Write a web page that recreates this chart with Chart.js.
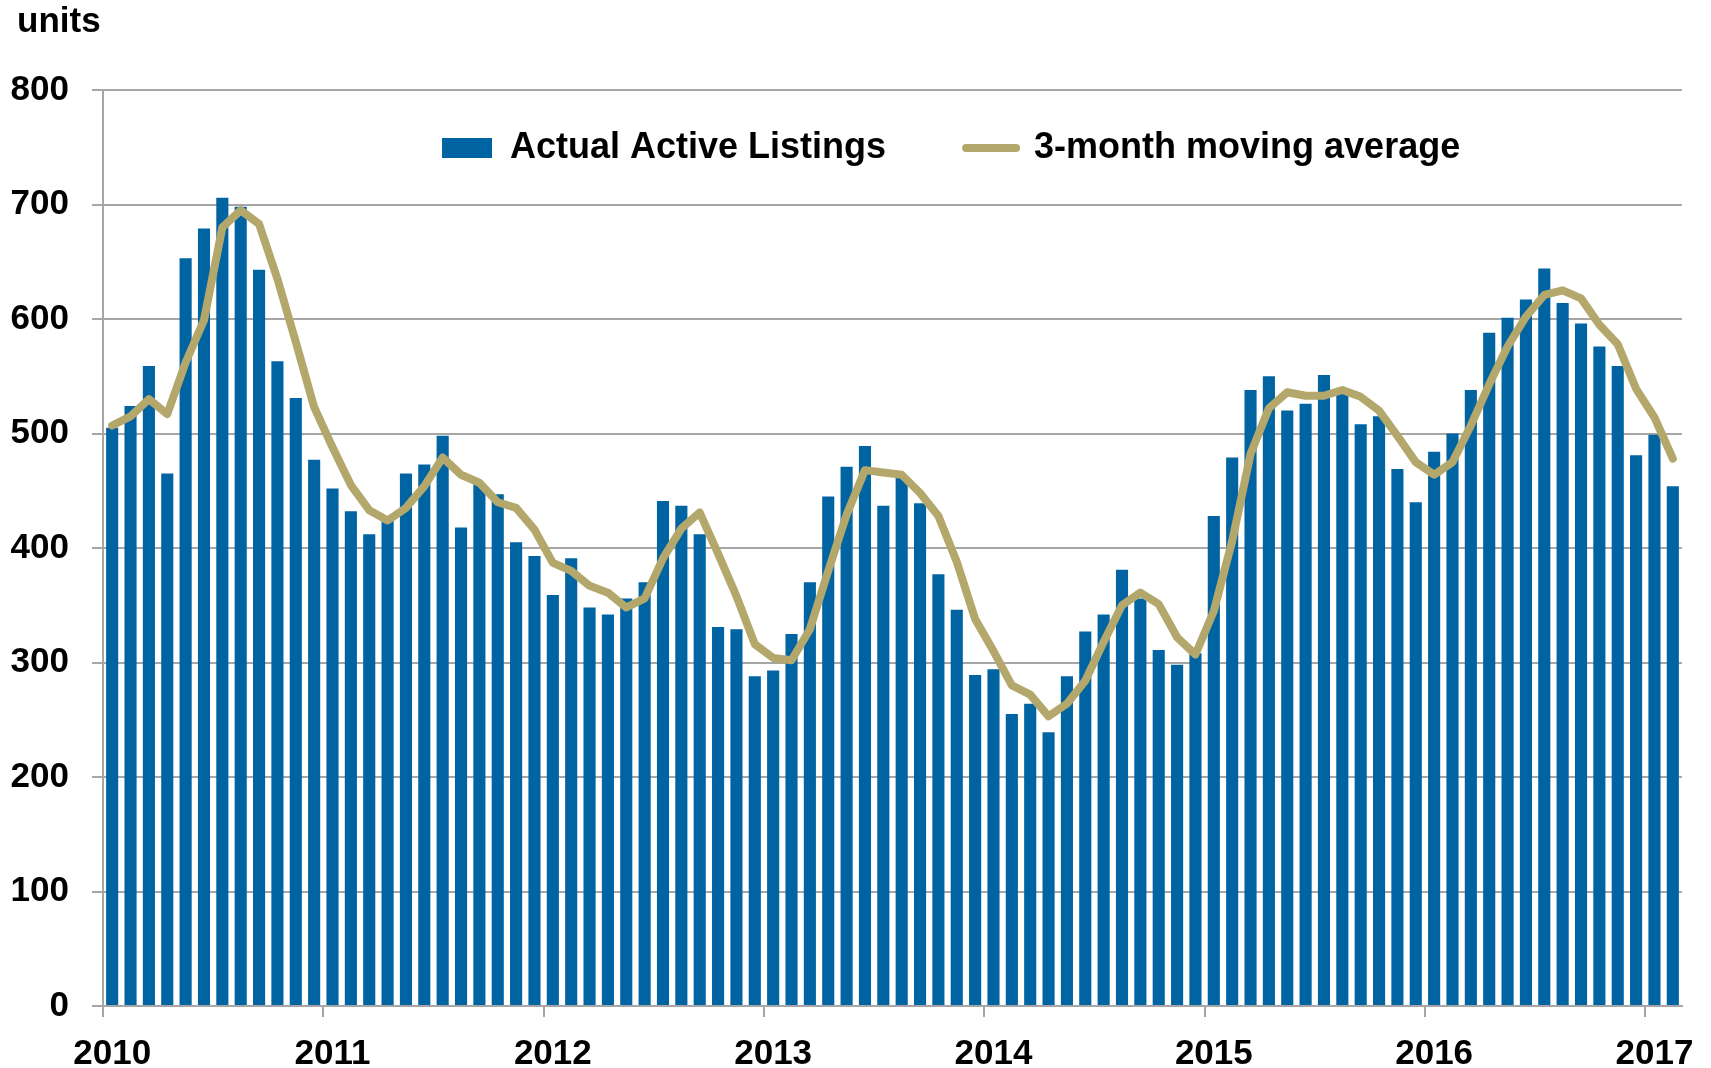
<!DOCTYPE html>
<html>
<head>
<meta charset="utf-8">
<script src="https://cdn.jsdelivr.net/npm/chart.js@4.4.1/dist/chart.umd.min.js"></script>
<style>
  html, body { margin: 0; padding: 0; background: #ffffff; }
  #wrap { width: 1711px; height: 1068px; position: relative; }
</style>
</head>
<body>
<div id="wrap"><canvas id="myChart"></canvas></div>
<script>
// months per year in the series (Jan 2010 - Feb 2017)
const years = ['2010', '2011', '2012', '2013', '2014', '2015', '2016', '2017'];
const monthsPerYear = [12, 12, 12, 12, 12, 12, 12, 2];

// actual active listings, monthly
const listings = [
  505, 524, 559, 465, 653, 679, 706, 698, 643, 563, 531, 477,
  452, 432, 412, 425, 465, 473, 498, 418, 456, 447, 405, 393,
  359, 391, 348, 342, 356, 370, 441, 437, 412, 331, 329, 288,
  293, 325, 370, 445, 471, 489, 437, 462, 439, 377, 346, 289,
  294, 255, 264, 239, 288, 327, 342, 381, 356, 311, 298, 308,
  428, 479, 538, 550, 520, 526, 551, 535, 508, 515, 469, 440,
  484, 500, 538, 588, 601, 617, 644, 614, 596, 576, 559, 481,
  499, 454
];

// 3-month moving average
const movingAvg = [
  507, 515, 530, 517, 562, 599, 680, 695, 683, 635, 580, 523,
  488, 455, 433, 424, 435, 454, 479, 464, 457, 440, 435, 416,
  387, 380, 367, 361, 348, 356, 391, 417, 431, 395, 358, 316,
  304, 302, 329, 380, 429, 468, 466, 464, 448, 428, 388, 338,
  310, 280, 272, 253, 264, 284, 318, 350, 361, 351, 322, 307,
  345, 406, 482, 522, 536, 533, 533, 538, 532, 520, 498, 475,
  464, 475, 507, 543, 576, 602, 621, 625, 618, 595, 578, 539,
  514, 478
];

const yTicks = [0, 100, 200, 300, 400, 500, 600, 700, 800];

const categories = [];
years.forEach((y, i) => {
  for (let m = 1; m <= monthsPerYear[i]; m++) {
    categories.push(y + '-' + String(m).padStart(2, '0'));
  }
});

const barBlue = '#0064a2';
const gold = '#b4a76c';
const gridGrey = '#a6a6a6';
const fontFamily = '"Liberation Sans", Arial, sans-serif';

Chart.defaults.font.family = fontFamily;
Chart.defaults.font.size = 35;
Chart.defaults.font.weight = 'bold';
Chart.defaults.color = '#000000';

// "units" caption over the y axis
const unitsLabel = {
  id: 'unitsLabel',
  afterDraw(chart) {
    const ctx = chart.ctx;
    ctx.save();
    ctx.font = 'bold 35px ' + fontFamily;
    ctx.fillStyle = '#000000';
    ctx.textAlign = 'left';
    ctx.textBaseline = 'alphabetic';
    ctx.fillText('units', chart.chartArea.left - 86, 32);
    ctx.restore();
  }
};

// move the legend inside the plot, where the original has it
// (the legend clips to its own box, so give it room)
const legendPlace = {
  id: 'legendPlace',
  afterLayout(chart) {
    const lg = chart.legend;
    const pad = chart.options.plugins.legend.labels.padding;
    lg.left = chart.chartArea.left + 339 - pad;
    lg.right = chart.chartArea.right;
    lg.top = chart.chartArea.top + 40 - pad;
    lg.bottom = lg.top + 250;
    lg.width = lg.right - lg.left;
    lg.height = lg.bottom - lg.top;
  }
};

const data = {
  labels: categories,
  datasets: [{
    type: 'bar',
    label: 'Actual Active Listings',
    data: listings,
    backgroundColor: barBlue,
    borderWidth: 0,
    barPercentage: 0.66,
    categoryPercentage: 1.0,
    pointStyle: 'rect',
    order: 1
  }, {
    type: 'line',
    label: '3-month moving average',
    data: movingAvg,
    borderColor: gold,
    backgroundColor: gold,
    borderWidth: 8,
    tension: 0,
    borderJoinStyle: 'round',
    borderCapStyle: 'round',
    pointRadius: 0,
    pointHoverRadius: 0,
    pointStyle: 'line',
    pointBorderColor: gold,
    pointBorderWidth: 8,
    order: 0
  }]
};

const config = {
  type: 'bar',
  data: data,
  plugins: [unitsLabel, legendPlace],
  options: {
    responsive: true,
    maintainAspectRatio: false,
    animation: false,
    events: [],
    layout: { padding: { top: 89, right: 29, bottom: 0, left: 0 } },
    plugins: {
      tooltip: { enabled: false },
      title: { display: false },
      legend: {
        position: 'top',
        align: 'start',
        maxHeight: 1,
        labels: {
          usePointStyle: true,
          pointStyleWidth: 50,
          boxHeight: 20,
          padding: 80,
          color: '#000000',
          font: { size: 36, weight: 'bold', family: fontFamily },
          sort: (a, b) => a.datasetIndex - b.datasetIndex,
          generateLabels: (chart) => {
            const items = Chart.defaults.plugins.legend.labels.generateLabels(chart);
            items.forEach(it => { if (it.pointStyle === 'line') it.lineCap = 'round'; });
            return items;
          }
        }
      }
    },
    scales: {
      x: {
        type: 'category',
        offset: true,
        afterFit: (s) => { s.height = 62; },
        grid: {
          offset: true,
          drawOnChartArea: false,
          drawTicks: true,
          tickLength: 11,
          lineWidth: 2,
          tickColor: (ctx) => (ctx.index !== undefined && ctx.index % 12 === 0) ? gridGrey : 'rgba(0,0,0,0)'
        },
        border: { display: true, color: gridGrey, width: 2 },
        ticks: {
          autoSkip: false,
          maxRotation: 0,
          minRotation: 0,
          padding: 16,
          callback: function (value, index) {
            const lab = this.getLabelForValue(value);
            return lab.endsWith('-01') ? lab.slice(0, 4) : '';
          }
        }
      },
      y: {
        min: 0,
        max: 800,
        afterFit: (s) => { s.width = 103; },
        afterBuildTicks: (s) => { s.ticks = yTicks.map(v => ({ value: v })); },
        grid: {
          color: gridGrey,
          lineWidth: 2,
          tickLength: 11,
          tickColor: gridGrey
        },
        border: { display: true, color: gridGrey, width: 2 },
        ticks: { padding: 23 }
      }
    }
  }
};

const myChart = new Chart(document.getElementById('myChart'), config);
</script>
</body>
</html>
